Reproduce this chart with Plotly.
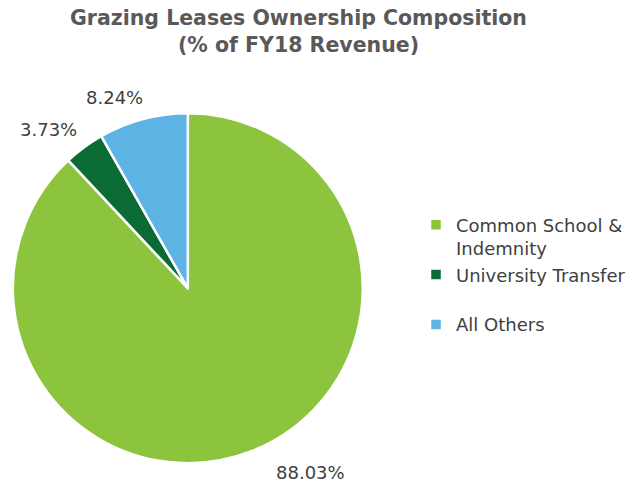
import math
import plotly.graph_objects as go

categories = ["Common School &<br>Indemnity", "University Transfer<br> ", "All Others"]
values = [88.03, 3.73, 8.24]
colors = ["#8DC43E", "#0B6B35", "#5CB3E4"]

W, H = 641, 486
dom_x = [0.02, 0.566]
dom_y = [0.047, 0.767]

fig = go.Figure(go.Pie(
    labels=categories,
    values=values,
    sort=False,
    direction="clockwise",
    rotation=0,
    marker=dict(colors=colors, line=dict(color="white", width=2.5)),
    textinfo="none",
    hoverinfo="label+percent",
    domain=dict(x=dom_x, y=dom_y),
    showlegend=True,
))

# data labels placed outside each slice, derived from the slice mid-angle
cx_px = (dom_x[0] + dom_x[1]) / 2 * W
cy_px = (dom_y[0] + dom_y[1]) / 2 * H
r_px = min((dom_x[1] - dom_x[0]) * W, (dom_y[1] - dom_y[0]) * H) / 2
total = sum(values)
cum = 0.0
for v in values:
    mid = (cum + v / 2) / total * 2 * math.pi
    cum += v
    d = r_px * 1.13
    s = math.sin(mid)
    px = cx_px + s * d + (8 if s < 0 else 14)
    py = cy_px + math.cos(mid) * d
    fig.add_annotation(
        x=px / W, y=py / H, xref="paper", yref="paper",
        text=f"{v / total * 100:.2f}%", showarrow=False,
        xanchor="left" if s > 0 else "right", yanchor="middle",
        font=dict(family="DejaVu Sans", size=18, color="#404040"),
    )

fig.add_annotation(
    text="<b>Grazing Leases Ownership Composition<br>(% of FY18 Revenue)</b>",
    x=0.466, y=0.992, xref="paper", yref="paper", xanchor="center", yanchor="top",
    showarrow=False,
    font=dict(family="DejaVu Sans", size=20.5, color="#595959"),
)

fig.update_layout(
    width=W, height=H,
    margin=dict(l=0, r=0, t=0, b=0),
    paper_bgcolor="white",
    legend=dict(
        x=0.649, y=0.435, xanchor="left", yanchor="middle",
        font=dict(family="DejaVu Sans", size=18, color="#404040"),
        itemwidth=30, tracegroupgap=0, valign="top",
    ),
)

fig.write_html("out.html")
